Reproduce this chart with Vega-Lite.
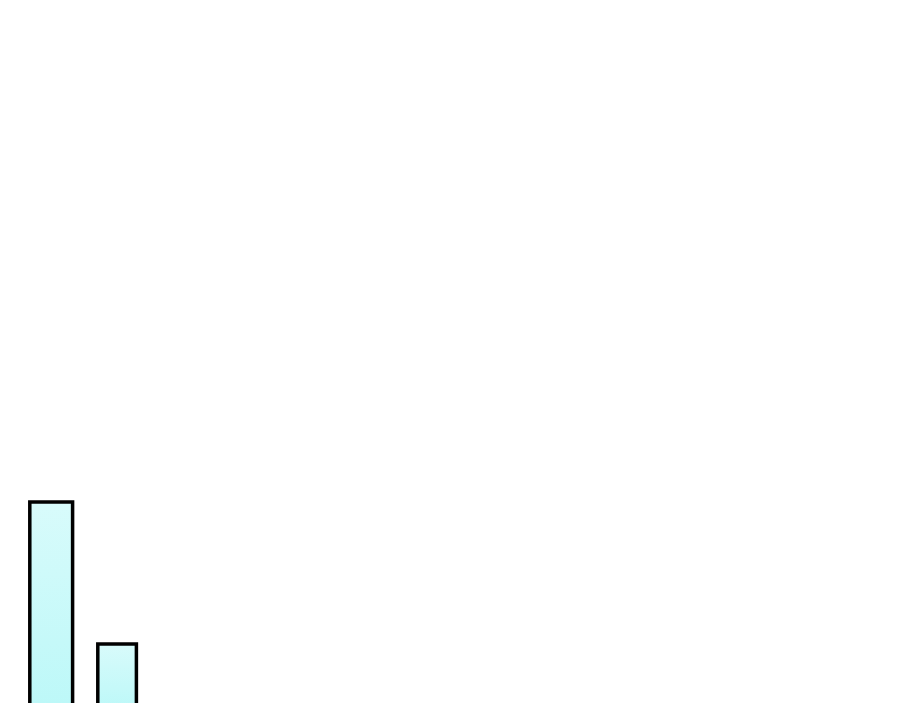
{
  "$schema": "https://vega.github.io/schema/vega-lite/v6.json",
  "width": 900,
  "height": 703,
  "autosize": {"type": "fit", "contains": "padding"},
  "padding": 0,
  "background": "#ffffff",
  "config": {"view": {"stroke": null}},
  "data": {
    "values": [
      {"bar": "A", "start": 29.8, "end": 72.6, "value": 29.3},
      {"bar": "B", "start": 97.8, "end": 136.4, "value": 9.3}
    ]
  },
  "mark": {
    "type": "rect",
    "clip": true,
    "stroke": "#000000",
    "strokeWidth": 3.5,
    "fill": {
      "gradient": "linear",
      "x1": 0, "y1": 0, "x2": 0, "y2": 1,
      "stops": [
        {"offset": 0, "color": "#d8fbfb"},
        {"offset": 1, "color": "#bcf8f8"}
      ]
    }
  },
  "encoding": {
    "x": {
      "field": "start",
      "type": "quantitative",
      "scale": {"domain": [0, 900], "nice": false, "zero": false},
      "axis": null
    },
    "x2": {"field": "end"},
    "y": {
      "field": "value",
      "type": "quantitative",
      "scale": {"domain": [1, 100], "nice": false, "zero": false},
      "axis": null
    },
    "y2": {"datum": 0}
  }
}
